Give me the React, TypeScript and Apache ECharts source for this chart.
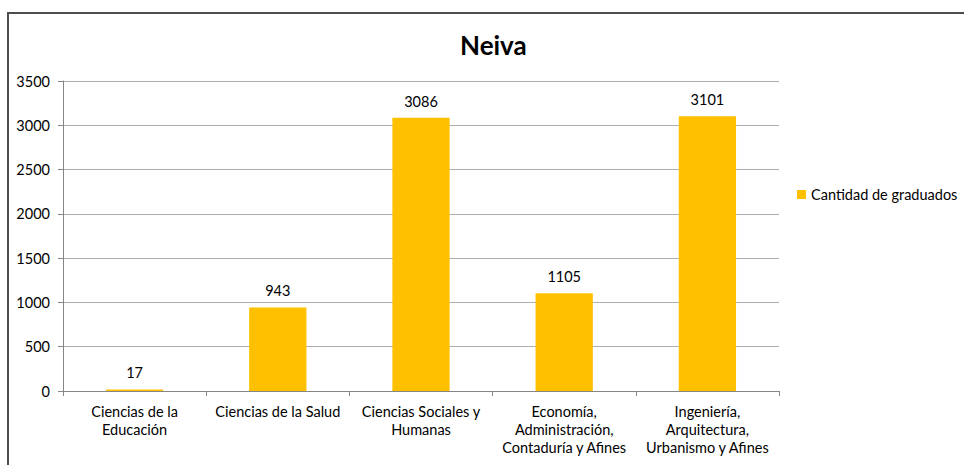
import React, { useEffect, useRef } from "react";
import * as echarts from "echarts";

const categories = [
  "Ciencias de la\nEducación",
  "Ciencias de la Salud",
  "Ciencias Sociales y\nHumanas",
  "Economía,\nAdministración,\nContaduría y Afines",
  "Ingeniería,\nArquitectura,\nUrbanismo y Afines",
];
const graduados = [17, 943, 3086, 1105, 3101];
const seriesName = "Cantidad de graduados";
const titleText = "Neiva";

const FONT = "Lato, 'Noto Sans', sans-serif";

export default function App() {
  const ref = useRef<HTMLDivElement>(null);
  useEffect(() => {
    if (!ref.current) return;
    const chart = echarts.init(ref.current, null, { renderer: "svg" });
    chart.setOption({
      animation: false,
      backgroundColor: "#ffffff",
      textStyle: { fontFamily: FONT },
      title: {
        text: titleText,
        left: 455,
        top: 25,
        textStyle: { fontFamily: FONT, fontSize: 26, fontWeight: "bold", color: "#000000", lineHeight: 30 },
      },
      legend: {
        data: [seriesName],
        left: 792,
        top: 182,
        itemWidth: 9,
        itemHeight: 9,
        itemGap: 5,
        icon: "rect",
        textStyle: { fontFamily: FONT, fontSize: 14.5, color: "#000000" },
      },
      grid: { left: 63, right: 185, top: 81, bottom: 74, containLabel: false },
      xAxis: {
        type: "category",
        data: categories,
        axisLine: { lineStyle: { color: "#868686", width: 1 } },
        axisTick: { show: true, length: 5, lineStyle: { color: "#868686" } },
        axisLabel: {
          interval: 0,
          margin: 11,
          fontFamily: FONT,
          fontSize: 14.5,
          lineHeight: 18,
          color: "#000000",
        },
      },
      yAxis: {
        type: "value",
        min: 0,
        max: 3500,
        interval: 500,
        axisLine: { show: true, lineStyle: { color: "#868686", width: 1 } },
        axisTick: { show: true, length: 5, lineStyle: { color: "#868686" } },
        splitLine: { lineStyle: { color: "#ADADAD", width: 1 } },
        axisLabel: {
          margin: 13,
          fontFamily: FONT,
          fontSize: 14.5,
          color: "#000000",
          formatter: (v: number) => String(v),
        },
      },
      graphic: [
        {
          type: "rect",
          shape: { x: 8, y: 13, width: 1000, height: 1000 },
          style: { fill: "none", stroke: "#4d4d4d", lineWidth: 2 },
          silent: true,
        },
      ],
      series: [
        {
          name: seriesName,
          type: "bar",
          data: graduados,
          barCategoryGap: "60%",
          itemStyle: { color: "#FFC000" },
          label: {
            show: true,
            position: "top",
            distance: 9,
            fontFamily: FONT,
            fontSize: 14.5,
            color: "#000000",
          },
        },
      ],
    });
    return () => chart.dispose();
  }, []);
  return (
    <div
      ref={ref}
      style={{ position: "fixed", left: 0, top: 0, width: 964, height: 465 }}
    />
  );
}
